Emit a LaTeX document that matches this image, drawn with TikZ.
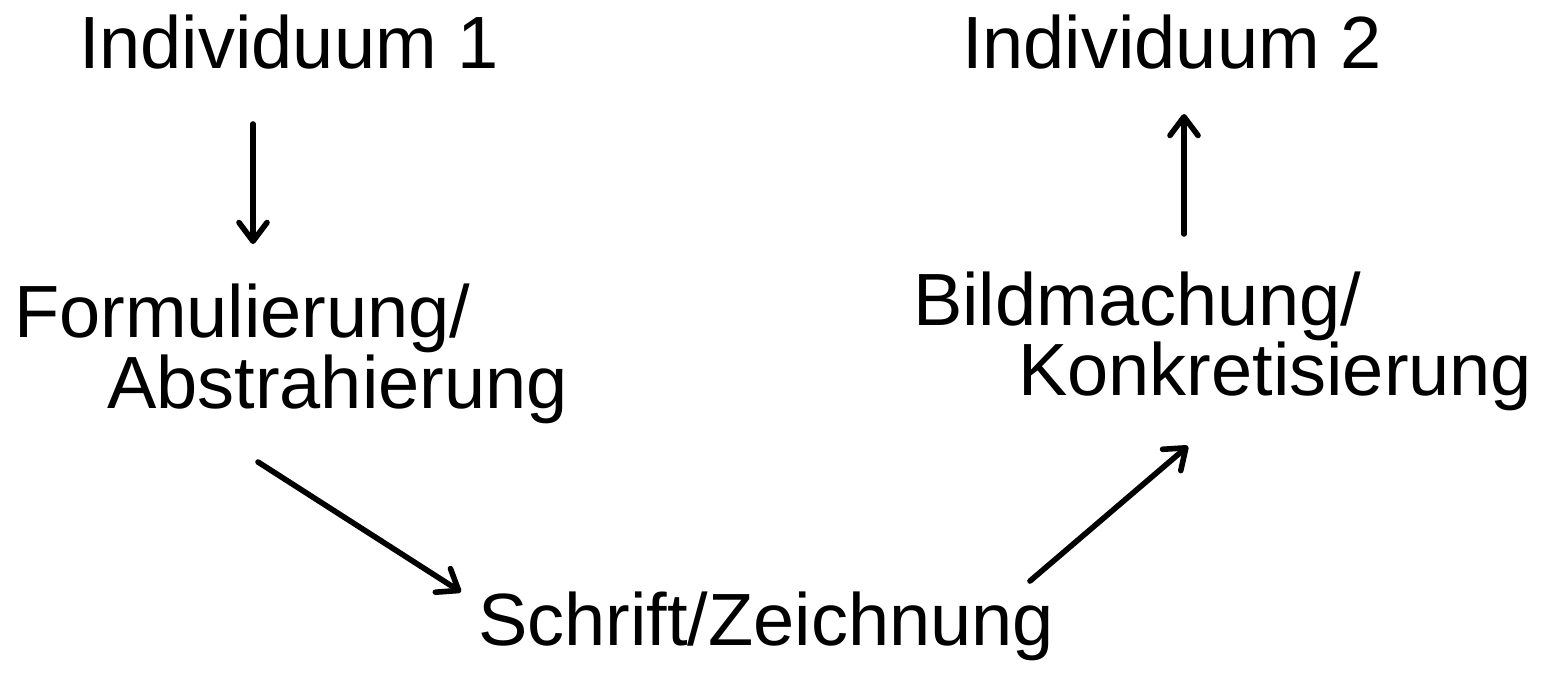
\documentclass[tikz,border=0pt]{standalone}
\usepackage{fontspec}
\setmainfont{Liberation Sans}
\usetikzlibrary{arrows.meta}
\tikzset{
  lbl/.style={anchor=base west, inner sep=0pt, outer sep=0pt, font=\fontsize{55.5}{66}\selectfont},
  flow/.style={line width=4.2pt, line cap=round,
    -{Straight Barb[length=14pt, width=21pt, line width=4.2pt, round]}}
}
\begin{document}
\begin{tikzpicture}[x=0.75pt, y=-0.75pt]
  \useasboundingbox (0,0) rectangle (1541,675);
  % labels
  \node[lbl] (ind1) at (79,68) {Individuum 1};
  \node[lbl] (ind2) at (962,68) {Individuum 2};
  \node[lbl] (form) at (14,337) {Formulierung/};
  \node[lbl] (abst) at (107,408) {Abstrahierung};
  \node[lbl] (bild) at (913,325) {Bildmachung/};
  \node[lbl] (konk) at (1018,395) {Konkretisierung};
  \node[lbl] (schr) at (478,645) {Schrift/Zeichnung};
  % arrow end points
  \coordinate (a1s) at (253,124);
  \coordinate (a1e) at (253,244);
  \coordinate (a2s) at (1184,234);
  \coordinate (a2e) at (1184,114);
  \coordinate (a3s) at (258,462);
  \coordinate (a3e) at (461,592);
  \coordinate (a4s) at (1030,581);
  \coordinate (a4e) at (1188,446);
  % process arrows
  \draw[flow] (a1s) -- (a1e);
  \draw[flow] (a2s) -- (a2e);
  \draw[flow] (a3s) -- (a3e);
  \draw[flow] (a4s) -- (a4e);
\end{tikzpicture}
\end{document}
